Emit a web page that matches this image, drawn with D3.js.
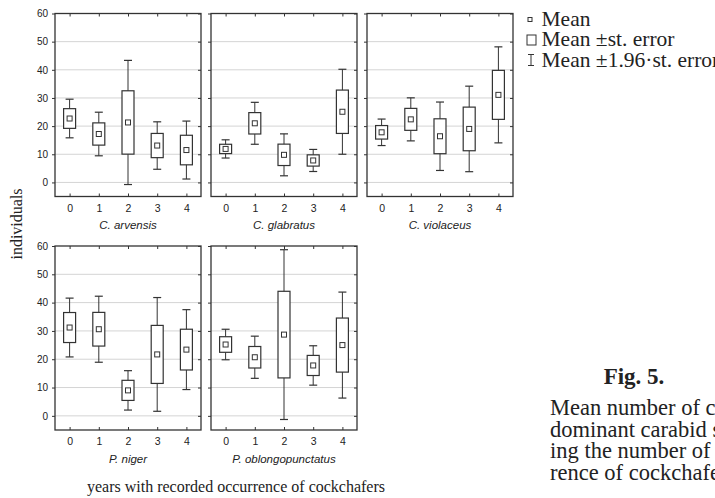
<!DOCTYPE html>
<html>
<head>
<meta charset="utf-8">
<script src="https://cdn.jsdelivr.net/npm/d3@7"></script>
<style>
  body { margin: 0; background: #fff; }
  svg { display: block; }
</style>
</head>
<body>
<div id="root"></div>
<script>
// years with recorded occurrence of cockchafers
const years = [0, 1, 2, 3, 4];
const yTicks = [0, 10, 20, 30, 40, 50, 60];

const species = ["C. arvensis", "C. glabratus", "C. violaceus", "P. niger", "P. oblongopunctatus"];

// mean number of individuals per species, by year count
const meanArvensis = [22.7, 17.2, 21.3, 13.1, 11.5];
const meanGlabratus = [11.9, 21.0, 9.8, 7.8, 25.1];
const meanViolaceus = [17.8, 22.4, 16.4, 19.0, 31.1];
const meanNiger = [31.2, 30.6, 9.0, 21.7, 23.4];
const meanOblongo = [25.2, 20.7, 28.7, 17.8, 25.0];

// standard errors
const seArvensis = [3.5, 3.95, 11.25, 4.3, 5.25];
const seGlabratus = [1.65, 3.8, 3.8, 2.0, 7.7];
const seViolaceus = [2.4, 3.9, 6.2, 7.75, 8.7];
const seNiger = [5.3, 5.95, 3.55, 10.25, 7.2];
const seOblongo = [2.75, 3.8, 15.3, 3.55, 9.55];

const means = [meanArvensis, meanGlabratus, meanViolaceus, meanNiger, meanOblongo];
const ses = [seArvensis, seGlabratus, seViolaceus, seNiger, seOblongo];

const legendLabels = ["Mean", "Mean \u00b1st. error", "Mean \u00b11.96\u00b7st. error"];

const width = 715, height = 498;
const ink = "#333";

const svg = d3.select("#root").append("svg")
    .attr("width", width)
    .attr("height", height);

// panel layout
const panelW = 146;
const colLeft = [55, 211, 367];
const rowTop = [13.5, 246];
const rowBottom = [196.5, 430];

const sans = "'Liberation Sans', Arial, sans-serif";
const serif = "'Liberation Serif', 'Times New Roman', serif";

species.forEach(function(name, k) {
    const row = k < 3 ? 0 : 1;
    const col = k < 3 ? k : k - 3;
    const x0 = colLeft[col];

    const x = d3.scaleLinear().domain([-0.5, 4.5]).range([x0, x0 + panelW]);
    const y = d3.scaleLinear().domain([-5, 60]).range([rowBottom[row], rowTop[row]]);

    const g = svg.append("g").attr("class", "panel");

    // grid
    g.selectAll("line.grid")
        .data(yTicks.filter(d => d < 60))
        .enter().append("line")
        .attr("class", "grid")
        .attr("x1", x0).attr("x2", x0 + panelW)
        .attr("y1", d => y(d)).attr("y2", d => y(d))
        .attr("stroke", "#d4d4d4").attr("stroke-width", 1);

    // left axis
    const left = g.append("g")
        .attr("transform", `translate(${x0},0)`)
        .call(d3.axisLeft(y).tickValues(yTicks).tickSize(3).tickFormat(col === 0 ? d3.format("d") : ""));
    left.select(".domain").remove();
    left.selectAll("line").attr("stroke", ink);
    left.selectAll("text").attr("font-family", sans).attr("font-size", 10).attr("fill", "#222").attr("dx", "-1");

    // right ticks (inward)
    const right = g.append("g")
        .attr("transform", `translate(${x0 + panelW},0)`)
        .call(d3.axisLeft(y).tickValues(yTicks).tickSize(3).tickFormat(""));
    right.select(".domain").remove();
    right.selectAll("line").attr("stroke", ink);

    // bottom axis
    const bottom = g.append("g")
        .attr("transform", `translate(0,${rowBottom[row]})`)
        .call(d3.axisBottom(x).tickValues(years).tickSize(-3).tickPadding(8).tickFormat(d3.format("d")));
    bottom.select(".domain").remove();
    bottom.selectAll("line").attr("stroke", ink);
    bottom.selectAll("text").attr("font-family", sans).attr("font-size", 10.5).attr("fill", "#222");

    // top ticks (inward)
    const top = g.append("g")
        .attr("transform", `translate(0,${rowTop[row]})`)
        .call(d3.axisBottom(x).tickValues(years).tickSize(3).tickFormat(""));
    top.select(".domain").remove();
    top.selectAll("line").attr("stroke", ink);

    // frame
    g.append("rect")
        .attr("x", x0).attr("y", rowTop[row])
        .attr("width", panelW).attr("height", rowBottom[row] - rowTop[row])
        .attr("fill", "none").attr("stroke", ink).attr("stroke-width", 1.3);

    // species label
    g.append("text")
        .attr("x", x(2)).attr("y", rowBottom[row] + 32.5)
        .attr("text-anchor", "middle")
        .attr("font-family", sans).attr("font-size", 11.5).attr("font-style", "italic")
        .attr("fill", "#222")
        .text(name);

    const m = means[k], s = ses[k];
    const boxes = g.selectAll("g.box")
        .data(years)
        .enter().append("g")
        .attr("class", "box");

    // whiskers
    boxes.append("line")
        .attr("x1", d => x(d)).attr("x2", d => x(d))
        .attr("y1", (d, i) => y(m[i] + 1.96 * s[i]))
        .attr("y2", (d, i) => y(m[i] - 1.96 * s[i]))
        .attr("stroke", ink).attr("stroke-width", 1);
    [1, -1].forEach(function(sign) {
        boxes.append("line")
            .attr("x1", d => x(d) - 4).attr("x2", d => x(d) + 4)
            .attr("y1", (d, i) => y(m[i] + sign * 1.96 * s[i]))
            .attr("y2", (d, i) => y(m[i] + sign * 1.96 * s[i]))
            .attr("stroke", ink).attr("stroke-width", 1.2);
    });

    // st. error box
    boxes.append("rect")
        .attr("x", d => x(d) - 6)
        .attr("y", (d, i) => y(m[i] + s[i]))
        .attr("width", 12)
        .attr("height", (d, i) => y(m[i] - s[i]) - y(m[i] + s[i]))
        .attr("fill", "#fff").attr("stroke", ink).attr("stroke-width", 1.2);

    // mean
    boxes.append("rect")
        .attr("x", d => x(d) - 2.5)
        .attr("y", (d, i) => y(m[i]) - 2.5)
        .attr("width", 5).attr("height", 5)
        .attr("fill", "#fff").attr("stroke", ink).attr("stroke-width", 1);
});

// y title
svg.append("text")
    .attr("transform", "translate(22,224) rotate(-90)")
    .attr("text-anchor", "middle")
    .attr("font-family", serif).attr("font-size", 16).attr("fill", "#222")
    .text("individuals");

// x title
svg.append("text")
    .attr("x", 236).attr("y", 492)
    .attr("text-anchor", "middle")
    .attr("font-family", serif).attr("font-size", 16).attr("fill", "#222")
    .text("years with recorded occurrence of cockchafers");

// legend
const legend = svg.append("g").attr("class", "legend");
const legY = [25.5, 46, 66.5];
legend.append("rect").attr("x", 528).attr("y", legY[0] - 8).attr("width", 4).attr("height", 4)
    .attr("fill", "#fff").attr("stroke", ink).attr("stroke-width", 1);
legend.append("rect").attr("x", 527).attr("y", legY[1] - 11).attr("width", 9).attr("height", 10)
    .attr("fill", "#fff").attr("stroke", ink).attr("stroke-width", 1);
legend.append("line").attr("x1", 531).attr("x2", 531).attr("y1", legY[2] - 12).attr("y2", legY[2] - 1).attr("stroke", ink);
legend.append("line").attr("x1", 528).attr("x2", 534).attr("y1", legY[2] - 12).attr("y2", legY[2] - 12).attr("stroke", ink);
legend.append("line").attr("x1", 528).attr("x2", 534).attr("y1", legY[2] - 1).attr("y2", legY[2] - 1).attr("stroke", ink);
legend.selectAll("text")
    .data(legendLabels)
    .enter().append("text")
    .attr("x", 541.5).attr("y", (d, i) => legY[i])
    .attr("font-family", serif).attr("font-size", 21.5).attr("fill", "#222")
    .text(d => d);

// caption (cut by the right edge, as in the source figure)
svg.append("text")
    .attr("x", 634).attr("y", 384)
    .attr("text-anchor", "middle")
    .attr("font-family", serif).attr("font-size", 23).attr("font-weight", "bold").attr("fill", "#222")
    .text("Fig. 5.");

const captionLines = ["Mean number of ca", "dominant carabid sp", "ing the number of y", "rence of cockchafers"];
svg.append("g").selectAll("text")
    .data(captionLines)
    .enter().append("text")
    .attr("x", 550).attr("y", (d, i) => 415 + i * 21.7)
    .attr("font-family", serif).attr("font-size", 22.5).attr("fill", "#222")
    .text(d => d);
</script>
</body>
</html>
